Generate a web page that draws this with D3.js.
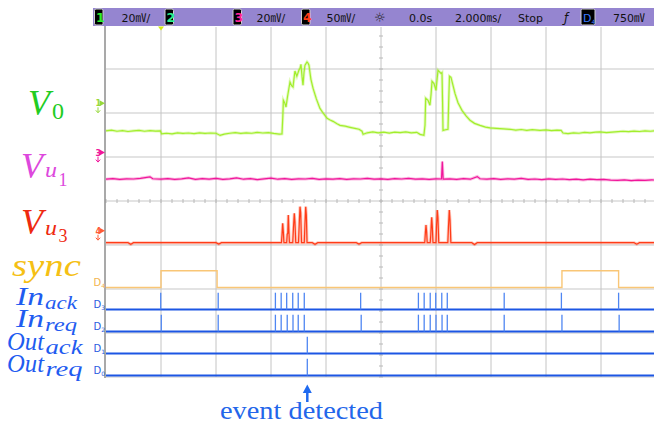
<!DOCTYPE html>
<html>
<head>
<meta charset="utf-8">
<script src="https://cdn.jsdelivr.net/npm/d3@7"></script>
<style>
  body { margin: 0; background: #fff; }
  svg { display: block; }
</style>
</head>
<body>
<svg id="chart" width="654" height="426"></svg>
<script>
// ---- data (time in ms, analog values in mV) ----
var v0Data = [
  [-10,-12.5],[-9.8,-12.2],[-9.6,-12.7],[-9.4,-12.4],[-9.2,-12.8],[-9.0,-12.5],[-8.8,-12.3],[-8.6,-12.7],
  [-8.4,-12.4],[-8.2,-12.6],[-8.02,-12.5],[-7.98,-13.9],[-7.8,-13.6],[-7.6,-13.9],[-7.4,-13.4],[-7.2,-13.7],
  [-7.0,-13.5],[-6.8,-13.8],[-6.6,-13.4],[-6.4,-13.7],[-6.2,-13.5],[-6.0,-13.6],[-5.85,-14.6],[-5.7,-14.0],
  [-5.5,-13.6],[-5.3,-13.3],[-5.1,-13.7],[-4.9,-13.4],[-4.7,-13.6],[-4.5,-13.2],[-4.3,-13.5],[-4.1,-13.3],
  [-3.9,-13.7],[-3.7,-14.0],[-3.6,-13.9],[-3.57,-6],[-3.55,1.4],[-3.5,0.2],[-3.455,-1.7],[-3.4,3],
  [-3.31,9.7],[-3.25,8.0],[-3.2,7.4],[-3.13,14.7],[-3.06,12.3],[-2.98,15.2],[-2.945,15.9],[-2.91,17.7],
  [-2.87,12],[-2.836,8.2],[-2.8,14],[-2.764,17.3],[-2.69,18.8],[-2.65,18.2],[-2.62,17.3],[-2.55,11],
  [-2.47,6.8],[-2.35,2],[-2.22,-2.3],[-2.1,-4.5],[-1.96,-6.8],[-1.85,-7.6],[-1.745,-8.2],[-1.6,-9.3],
  [-1.49,-10],[-1.3,-10.4],[-1.13,-10.9],[-0.95,-11.4],[-0.8,-11.8],[-0.69,-12.7],[-0.65,-14.1],[-0.5,-13.4],
  [-0.3,-13.0],[-0.1,-13.4],[0.1,-13.1],[0.3,-13.5],[0.5,-13.1],[0.7,-13.3],[0.9,-13.0],[1.1,-13.4],
  [1.3,-13.2],[1.42,-14.1],[1.56,-14.5],[1.6,-10],[1.625,2.3],[1.709,1.4],[1.78,-0.9],[1.82,4],
  [1.855,10],[1.927,9],[2.0,5.9],[2.04,11],[2.073,15],[2.13,14.3],[2.182,13.6],[2.218,14],
  [2.24,0],[2.255,-12.3],[2.35,-12.0],[2.436,-11.8],[2.46,0],[2.49,12.3],[2.545,11.8],[2.62,8],
  [2.69,4.5],[2.8,0.3],[2.945,-3.2],[3.1,-5.8],[3.236,-7.7],[3.4,-9.1],[3.6,-10],[3.8,-10.8],
  [3.964,-11.2],[4.2,-11.4],[4.45,-11.6],[4.69,-11.8],[4.9,-12.2],[5.1,-11.9],[5.3,-12.3],[5.5,-12.0],
  [5.78,-12.3],[6.0,-12.1],[6.2,-12.4],[6.4,-12.2],[6.55,-12.3],[6.62,-13.5],[6.8,-13.8],[7.0,-13.4],
  [7.2,-13.6],[7.4,-13.2],[7.6,-13.4],[7.8,-13.1],[7.96,-13.0],[8.2,-13.3],[8.4,-13.1],[8.62,-12.9],
  [8.8,-12.7],[9.0,-12.9],[9.2,-12.6],[9.4,-12.8],[9.6,-12.5],[9.8,-12.7],[10,-12.4]
];

var vu1Data = [
  [-10,-12.1],[-9.75,-11.8],[-9.5,-12.2],[-9.25,-11.9],[-9.0,-12.0],[-8.75,-11.7],[-8.4,-11.0],[-8.3,-11.9],
  [-8.0,-12.1],[-7.75,-11.8],[-7.5,-12.2],[-7.25,-11.9],[-7.0,-11.5],[-6.75,-12.2],[-6.5,-11.8],[-6.25,-12.1],
  [-6.0,-11.7],[-5.75,-12.2],[-5.5,-11.9],[-5.25,-11.5],[-5.0,-12.1],[-4.75,-11.8],[-4.5,-12.3],[-4.25,-11.9],
  [-4.0,-11.6],[-3.75,-12.1],[-3.5,-11.8],[-3.25,-12.2],[-3.0,-11.9],[-2.75,-12.0],[-2.5,-11.7],[-2.25,-12.2],
  [-2.0,-11.9],[-1.75,-12.1],[-1.5,-11.8],[-1.25,-12.2],[-1.0,-11.9],[-0.75,-12.0],[-0.5,-11.7],[-0.25,-12.1],
  [0,-11.9],[0.25,-12.2],[0.5,-11.8],[0.75,-12.0],[1.0,-11.7],[1.25,-12.1],[1.5,-11.9],[1.75,-12.2],
  [2.0,-11.9],[2.2,-12.0],[2.23,-4.1],[2.26,-12.1],[2.5,-11.9],[2.75,-12.2],[3.0,-11.8],[3.25,-12.1],
  [3.5,-10.9],[3.6,-11.9],[3.85,-12.1],[4.1,-11.8],[4.35,-12.2],[4.6,-11.9],[4.85,-12.1],[5.1,-11.7],
  [5.35,-12.2],[5.6,-12.0],[5.85,-12.3],[6.1,-11.9],[6.35,-12.2],[6.6,-12.0],[6.85,-12.3],[7.1,-12.1],
  [7.35,-12.4],[7.6,-12.1],[7.85,-12.3],[8.1,-12.2],[8.35,-12.5],[8.6,-12.6],[8.85,-12.4],[9.1,-12.7],
  [9.35,-12.5],[9.6,-12.6],[9.85,-12.4],[10,-12.5]
];

var vu3Data = [
  [-10,-13.6],[-9.2,-13.6],[-9.1,-15.5],[-9.0,-13.6],[-6.0,-13.6],[-5.9,-15.2],[-5.8,-13.6],[-3.62,-13.6],
  [-3.6,-5],[-3.575,8.4],[-3.55,-2],[-3.53,-13.6],[-3.43,-13.6],[-3.41,-4],[-3.39,-3],[-3.371,17.8],
  [-3.35,0],[-3.33,-13.6],[-3.21,-13.6],[-3.18,5],[-3.153,19.8],[-3.13,10],[-3.1,-13.6],[-3.0,-13.6],
  [-2.97,10],[-2.945,27.3],[-2.92,20],[-2.89,-13.6],[-2.79,-13.6],[-2.765,8],[-2.738,27.3],[-2.715,18],
  [-2.69,-13.6],[-2.5,-13.6],[-2.4,-15.4],[-2.3,-13.6],[-0.9,-13.6],[-0.8,-15.2],[-0.7,-13.6],
  [1.59,-13.6],[1.615,-2],[1.636,6.5],[1.66,-2],[1.68,-13.6],[1.79,-13.6],[1.81,-5],[1.825,5],
  [1.844,15.2],[1.865,5],[1.89,-13.6],[2.0,-13.6],[2.02,5],[2.047,23.5],[2.07,15],[2.1,-13.6],
  [2.43,-13.6],[2.455,5],[2.484,23.5],[2.51,12],[2.54,-13.6],[3.3,-13.6],[3.4,-15.6],[3.5,-13.6],
  [9.2,-13.6],[9.3,-15.3],[9.4,-13.6],[10,-13.6]
];

// digital channels: sync high intervals and pulse times (ms)
var syncHigh = [[-8.0, -5.96], [6.58, 8.64]];
var inAckPulses = [-8.01, -5.92, -3.84, -3.63, -3.43, -3.21, -3.01, -2.79, -0.74,
                   1.36, 1.57, 1.79, 1.99, 2.21, 2.41, 4.48, 6.56, 8.64];
var inReqPulses = [-7.99, -5.92, -3.84, -3.63, -3.41, -3.20, -3.01, -2.79, -0.72,
                   1.36, 1.57, 1.79, 2.00, 2.22, 2.41, 4.48, 6.58, 8.66];
var outAckPulses = [-2.68];
var outReqPulses = [-2.68];
var eventTime = -2.68;

var headerItems = ['20㎷/', '20㎷/', '50㎷/', '0.0s', '2.000㎳/', 'Stop', '750㎷'];

// ---- layout ----
var svg = d3.select('#chart');
var plot = {left: 106, right: 656, top: 25, bottom: 377};
var x = d3.scaleLinear().domain([-10, 10]).range([plot.left, plot.right]);
var ydiv = d3.scaleLinear().domain([-4, 4]).range([plot.bottom, plot.top]);

var channels = [
  {id: '1', data: v0Data, vdiv: 20, pos: 2.22, color: '#a2ee2c', marker: '#96d83a'},
  {id: '3', data: vu1Data, vdiv: 20, pos: 1.1, color: '#f0169a', marker: '#f0169a'},
  {id: '4', data: vu3Data, vdiv: 50, pos: -0.675, color: '#ff3c18', marker: '#ff5a36'}
];
channels.forEach(function (ch) {
  ch.y = d3.scaleLinear()
    .domain([(-4 - ch.pos) * ch.vdiv, (4 - ch.pos) * ch.vdiv])
    .range([plot.bottom, plot.top]);
});

// grid
var grid = svg.append('g').attr('class', 'grid');
grid.selectAll('line.hgrid').data(d3.range(-4, 5)).enter().append('line')
  .attr('class', 'hgrid')
  .attr('x1', plot.left).attr('x2', plot.right)
  .attr('y1', ydiv).attr('y2', ydiv)
  .style('stroke', '#dadada').style('stroke-width', 1.6);
grid.selectAll('line.vgrid').data(d3.range(-8, 10.1, 2)).enter().append('line')
  .attr('class', 'vgrid')
  .attr('x1', x).attr('x2', x)
  .attr('y1', 27).attr('y2', plot.bottom)
  .style('stroke', '#c4c4c4').style('stroke-width', 1);
// minor ticks on centre lines
grid.selectAll('line.ytick').data(d3.range(-4, 4.01, 0.25)).enter().append('line')
  .attr('x1', x(0) - 2).attr('x2', x(0) + 2)
  .attr('y1', ydiv).attr('y2', ydiv)
  .style('stroke', '#b8b8b8').style('stroke-width', 1);
grid.selectAll('line.xtick').data(d3.range(-10, 10.01, 0.4)).enter().append('line')
  .attr('x1', x).attr('x2', x)
  .attr('y1', ydiv(0) - 2).attr('y2', ydiv(0) + 2)
  .style('stroke', '#b8b8b8').style('stroke-width', 1);
// left border
svg.append('line')
  .attr('x1', plot.left - 1).attr('x2', plot.left - 1)
  .attr('y1', 26).attr('y2', plot.bottom + 1)
  .style('stroke', '#8c8c8c').style('stroke-width', 1.5);

// analog traces
var line = d3.line();
var traces = svg.append('g').attr('class', 'traces');
channels.forEach(function (ch) {
  var pts = ch.data.map(function (d) { return [x(d[0]), ch.y(d[1])]; });
  traces.append('path').attr('d', line(pts))
    .style('fill', 'none').style('stroke', ch.color)
    .style('stroke-opacity', 0.3).style('stroke-width', 3);
  traces.append('path').attr('d', line(pts))
    .style('fill', 'none').style('stroke', ch.color)
    .style('stroke-width', 1.2);
  // channel ground marker
  var my = ydiv(ch.pos);
  var m = svg.append('g').attr('class', 'marker').style('fill', ch.marker);
  m.append('text').attr('x', 95.5).attr('y', my + 3)
    .style('font', 'bold 8px "DejaVu Sans"').text(ch.id);
  m.append('path').attr('d', 'M99.5,' + (my - 3) + 'L105,' + my + 'L99.5,' + (my + 3) + 'Z');
  m.append('path').attr('d', 'M98,' + (my + 4) + 'V' + (my + 9))
    .style('stroke', ch.marker).style('stroke-width', 1);
  m.append('path').attr('d', 'M95.8,' + (my + 7) + 'L98,' + (my + 9.5) + 'L100.2,' + (my + 7))
    .style('fill', 'none').style('stroke', ch.marker).style('stroke-width', 1);
});

// digital traces
var lane = d3.scaleLinear().domain([0, 4]).range([375.5, 287.5]);
var digital = [
  {n: 4, pulses: null, color: '#f9c676', label: '#f2b44e'},
  {n: 3, pulses: inAckPulses, color: '#1c56e4', label: '#2a5ce0'},
  {n: 2, pulses: inReqPulses, color: '#1c56e4', label: '#2a5ce0'},
  {n: 1, pulses: outAckPulses, color: '#1c56e4', label: '#2a5ce0'},
  {n: 0, pulses: outReqPulses, color: '#1c56e4', label: '#2a5ce0'}
];
var dg = svg.append('g').attr('class', 'digital');
digital.forEach(function (d) {
  var yb = lane(d.n), yh = yb - 16.8;
  if (d.pulses === null) {
    var pts = [[x(-10), yb]];
    syncHigh.forEach(function (s) {
      pts.push([x(s[0]), yb], [x(s[0]), yh], [x(s[1]), yh], [x(s[1]), yb]);
    });
    pts.push([x(10), yb]);
    dg.append('path').attr('d', line(pts))
      .style('fill', 'none').style('stroke', d.color).style('stroke-width', 1.4);
  } else {
    dg.append('line').attr('x1', x(-10)).attr('x2', x(10))
      .attr('y1', yb).attr('y2', yb)
      .style('stroke', d.color).style('stroke-width', 2);
    dg.selectAll(null).data(d.pulses).enter().append('line')
      .attr('x1', x).attr('x2', x)
      .attr('y1', yb).attr('y2', yh)
      .style('stroke', '#4f86f2').style('stroke-width', 1.3);
  }
  var t = dg.append('text').attr('x', 93.5).attr('y', yb - 1.5)
    .style('font', '10px "DejaVu Sans"').style('fill', d.label);
  t.append('tspan').text('D');
  t.append('tspan').attr('dy', 2).style('font-size', '6px').text(d.n);
});

// header bar
var hb = svg.append('g').attr('class', 'header');
hb.append('rect').attr('x', 93).attr('y', 8).attr('width', 561).attr('height', 18)
  .style('fill', '#9585d0');
function chipBox(x0, txt, col, sub) {
  hb.append('rect').attr('x', x0).attr('y', 9).attr('width', sub ? 14 : 8.5).attr('height', 16)
    .attr('rx', 1.5).style('fill', '#000').style('stroke', '#d0d0d0').style('stroke-width', 1);
  var t = hb.append('text').attr('x', x0 + (sub ? 2 : 1.6)).attr('y', 22)
    .style('font', (sub ? '11px' : 'bold 12.5px') + ' "DejaVu Sans"').style('fill', col).text(txt);
  if (sub) t.append('tspan').attr('dy', 2).style('font-size', '6px').text(sub);
}
chipBox(94.5, '1', '#2cf02c');
chipBox(165, '2', '#2cf08c');
chipBox(233, '3', '#ff2296');
chipBox(301.5, '4', '#ff3a14');
chipBox(581, 'D', '#3a7cff', '4');
var hx = [121.5, 256.5, 326.5, 409, 455, 518, 613];
hb.selectAll('text.ht').data(headerItems).enter().append('text')
  .attr('class', 'ht')
  .attr('x', function (d, i) { return hx[i]; }).attr('y', 21.5)
  .style('font', '11px "DejaVu Sans", "Noto Sans CJK JP"').style('fill', '#111')
  .text(function (d) { return d; });
hb.append('text').attr('x', 374).attr('y', 22).style('font', '13px "DejaVu Sans"')
  .style('fill', '#222').text('☼');
hb.append('text').attr('x', 564).attr('y', 21.5).style('font', 'italic 12px "DejaVu Sans"')
  .style('fill', '#111').text('ƒ');
// trigger position marker
svg.append('path')
  .attr('d', 'M' + (x(-8) - 3) + ',26.5L' + (x(-8) + 3) + ',26.5L' + x(-8) + ',30.5Z')
  .style('fill', '#d4ec10');

// left labels (math style)
var lab = svg.append('g').attr('class', 'labels').style('font-family', '"Liberation Serif", serif');
function mtext(px, py, size, col, txt, italic, len) {
  var t = lab.append('text').attr('x', px).attr('y', py)
    .style('font-size', size + 'px').style('fill', col)
    .style('font-style', italic ? 'italic' : 'normal').text(txt);
  if (len) t.attr('textLength', len).attr('lengthAdjust', 'spacingAndGlyphs');
  return t;
}
mtext(28, 115, 36, '#22cc22', 'V', true);
mtext(52, 119, 24, '#22cc22', '0', false);
mtext(21, 178, 36, '#dd48dd', 'V', true);
mtext(45, 177, 22, '#dd48dd', 'u', true, 12);
mtext(58.5, 186, 18, '#dd48dd', '1', false);
mtext(21, 234, 36, '#ee2a10', 'V', true);
mtext(45, 234.5, 22, '#ee2a10', 'u', true, 12);
mtext(58.5, 242, 18, '#ee2a10', '3', false);
mtext(12, 276, 31, '#f5c014', 'sync', true, 69);
var blue = '#1f5cf0';
mtext(16, 305, 26, blue, 'In', true, 28);
mtext(45, 309, 19, blue, 'ack', true, 32);
mtext(16, 327, 26, blue, 'In', true, 28);
mtext(45, 331, 19, blue, 'req', true, 32);
mtext(7, 350, 26, blue, 'Out', true, 37);
mtext(45.5, 353.5, 20, blue, 'ack', true, 37);
mtext(7, 372, 26, blue, 'Out', true, 37);
mtext(45.5, 375.5, 20, blue, 'req', true, 37);

// event annotation
var ex = x(eventTime);
svg.append('line').attr('x1', ex).attr('x2', ex).attr('y1', 389).attr('y2', 402)
  .style('stroke', '#1f6af0').style('stroke-width', 2.5);
svg.append('path').attr('d', 'M' + (ex - 4.5) + ',393L' + ex + ',384.5L' + (ex + 4.5) + ',393Z')
  .style('fill', '#1f6af0');
svg.append('text').attr('x', 220).attr('y', 419)
  .attr('textLength', 163).attr('lengthAdjust', 'spacingAndGlyphs')
  .style('font', '25px "Liberation Serif", serif').style('fill', '#2366ea')
  .text('event detected');
</script>
</body>
</html>
